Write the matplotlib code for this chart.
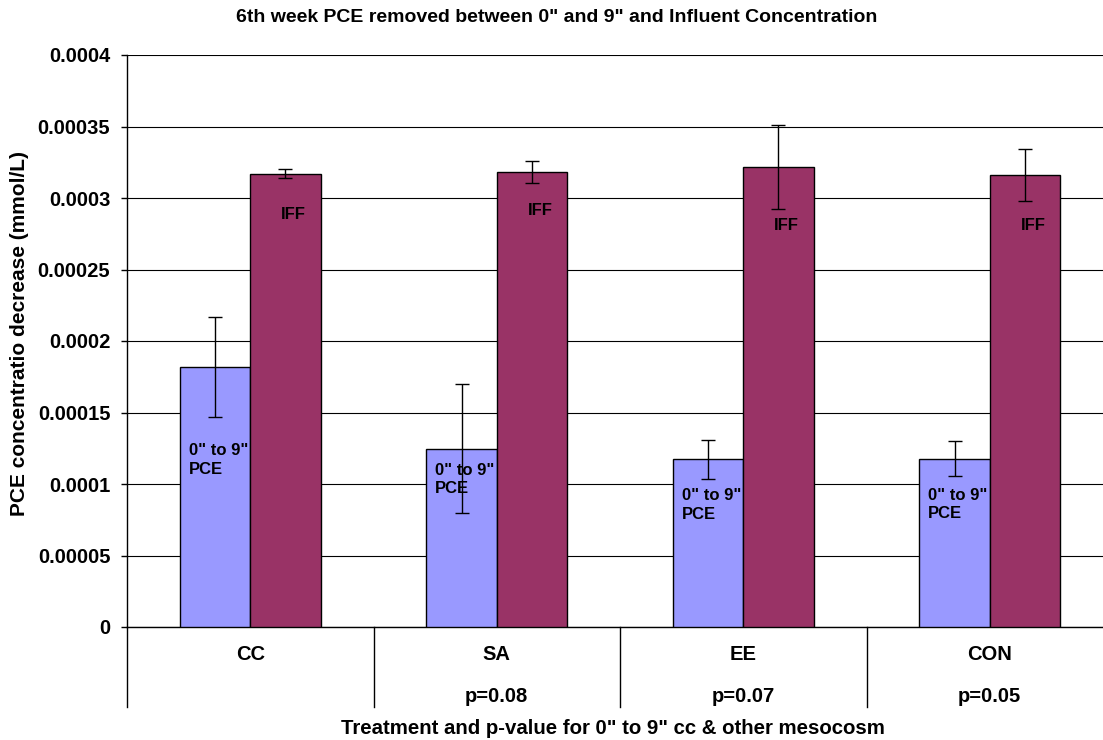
import matplotlib
matplotlib.use("Agg")
import matplotlib.pyplot as plt
import matplotlib.transforms as mtransforms

plt.rcParams['font.family'] = ['Liberation Sans', 'DejaVu Sans']

categories = ["CC", "SA", "EE", "CON"]
p_values = ["", "p=0.08", "p=0.07", "p=0.05"]
pce_removed = [0.0001818, 0.0001247, 0.0001173, 0.0001177]
pce_err = [0.0000350, 0.0000450, 0.0000138, 0.0000123]
influent = [0.0003170, 0.0003182, 0.0003217, 0.0003161]
influent_err = [0.0000032, 0.0000078, 0.0000293, 0.0000183]
ytick_vals = [0, 0.00005, 0.0001, 0.00015, 0.0002, 0.00025, 0.0003, 0.00035, 0.0004]
ytick_labels = ["0", "0.00005", "0.0001", "0.00015", "0.0002", "0.00025", "0.0003", "0.00035", "0.0004"]

W, H = 1103, 740
fig = plt.figure(figsize=(W / 100, H / 100), dpi=100)
ax = fig.add_axes([127 / W, 1 - 627 / H, (1113 - 127) / W, (627 - 55) / H])

x = list(range(len(categories)))
bw = 0.286
blue = "#9999FF"
maroon = "#993366"

ax.bar([i - bw / 2 for i in x], pce_removed, bw, color=blue, edgecolor="black", linewidth=1, zorder=3)
ax.bar([i + bw / 2 for i in x], influent, bw, color=maroon, edgecolor="black", linewidth=1, zorder=3)
ax.errorbar([i - bw / 2 for i in x], pce_removed, yerr=pce_err, fmt="none", ecolor="black",
            elinewidth=1, capsize=5, capthick=1, zorder=4)
ax.errorbar([i + bw / 2 for i in x], influent, yerr=influent_err, fmt="none", ecolor="black",
            elinewidth=1, capsize=5, capthick=1, zorder=4)

ax.set_xlim(-0.5, len(categories) - 0.5)
ax.set_ylim(0, 0.0004)
ax.set_yticks(ytick_vals)
ax.set_yticklabels(ytick_labels, fontsize=14.5, fontweight="bold")
ax.tick_params(axis="y", direction="out", length=4, width=1, pad=8)
ax.set_xticks([])
ax.yaxis.grid(True, color="black", linewidth=0.8, zorder=0)
ax.set_axisbelow(True)
for s in ["top", "right"]:
    ax.spines[s].set_visible(False)
ax.spines["left"].set_linewidth(1)
ax.spines["bottom"].set_linewidth(1)

# bar labels
blue_offsets = [-93, -31, -46, -46]
iff_offsets = [-41, -39, -59, -51]
for i in x:
    ax.annotate('0" to 9"\nPCE', xy=(i - bw, pce_removed[i]), xytext=(9, blue_offsets[i]),
                textcoords="offset pixels", ha="left", va="center", fontsize=12,
                fontweight="bold", linespacing=1.3, zorder=5)
    ax.annotate("IFF", xy=(i + bw / 2, influent[i]), xytext=(8, iff_offsets[i]),
                textcoords="offset pixels", ha="center", va="center", fontsize=12,
                fontweight="bold", zorder=5)

# category labels and separators
trans = mtransforms.blended_transform_factory(ax.transData, ax.transAxes)
for i, (c, p) in enumerate(zip(categories, p_values)):
    ax.annotate(c, xy=(i, 0), xycoords=trans, xytext=(0, -28), textcoords="offset pixels",
                ha="center", va="center", fontsize=14.5, fontweight="bold")
    if p:
        ax.annotate(p, xy=(i, 0), xycoords=trans, xytext=(0, -70), textcoords="offset pixels",
                    ha="center", va="center", fontsize=14.5, fontweight="bold")
sep_len = 80 / (627 - 55)
for b in [k - 0.5 for k in range(len(categories) + 1)]:
    ax.plot([b, b], [0, -sep_len], transform=trans, color="black", linewidth=1, clip_on=False)

fig.text(557 / W, 1 - 18 / H, '6th week PCE removed between 0" and 9" and Influent Concentration',
         ha="center", va="center", fontsize=14, fontweight="bold")
fig.text(613 / W, 1 - 728 / H, 'Treatment and p-value for 0" to 9" cc & other mesocosm',
         ha="center", va="center", fontsize=14.7, fontweight="bold")
fig.text(20 / W, 1 - 333 / H, "PCE concentratio decrease (mmol/L)", rotation=90,
         ha="center", va="center", fontsize=15, fontweight="bold")

fig.savefig("out.png", dpi=100)
